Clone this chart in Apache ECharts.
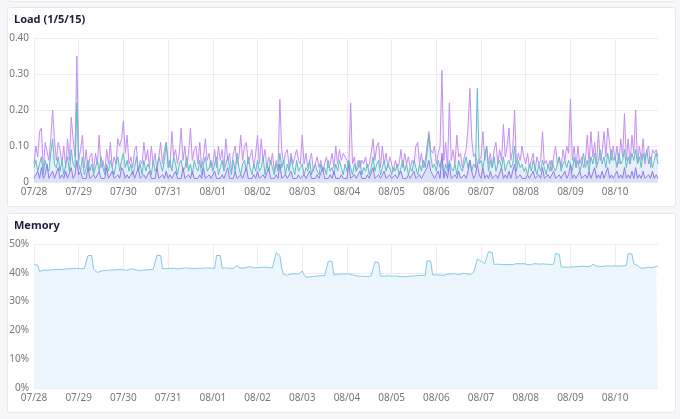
<html>
<head>
<meta charset="utf-8">
<script src="https://cdn.jsdelivr.net/npm/echarts@6.0.0/dist/echarts.min.js"></script>
<style>
  body { margin: 0; background: #f7f7fa; font-family: 'Noto Sans', sans-serif; }
  .card { position: absolute; left: 7px; width: 667px; background: #fff; border: 1px solid #e7e7ee; border-radius: 3px; }
  .chart { width: 667px; height: 198px; }
</style>
</head>
<body>
<div class="card" style="top:-10px;height:10px;"></div>
<div class="card" style="top:7px;height:198px;"><div id="load" class="chart"></div></div>
<div class="card" style="top:213px;height:198px;"><div id="mem" class="chart"></div></div>

<script type="text/javascript">
// tick labels, one per day; data is hourly (24 points per day)
var days = ['07/28','07/29','07/30','07/31','08/01','08/02','08/03','08/04','08/05','08/06','08/07','08/08','08/09','08/10'];

// load averages, in hundredths
var load1 = [
  5,10,7,14,15,3,11,11,6,12,20,12,6,11,9,5,10,4,12,6,18,12,7,35,
  6,9,13,4,9,3,7,8,3,8,5,13,4,6,3,9,5,11,4,7,5,12,10,12,
  17,8,13,5,7,4,9,10,3,6,5,11,6,9,4,10,5,8,3,7,11,5,9,11,
  6,4,14,7,9,5,8,15,6,10,4,8,15,6,9,10,5,11,4,7,12,6,8,4,
  5,9,4,10,6,9,4,12,6,8,3,8,10,5,7,13,6,10,11,5,7,9,4,8,
  13,5,12,6,9,4,7,5,8,3,6,4,23,9,5,8,9,4,8,5,7,9,6,5,
  13,5,8,4,6,8,3,5,7,4,6,3,5,7,4,5,8,4,10,5,9,6,8,8,
  6,4,22,5,7,3,6,4,6,5,7,4,5,8,12,6,10,11,4,10,5,8,4,7,
  5,3,6,4,5,9,4,8,5,7,4,6,5,10,11,5,8,4,6,10,14,9,8,10,
  5,8,10,31,6,11,4,22,6,9,5,13,7,8,4,7,9,15,26,12,7,8,5,6,
  7,14,6,10,5,8,4,9,11,5,9,6,16,7,10,15,6,9,20,5,8,6,10,7,
  5,8,4,6,8,3,7,5,6,14,5,6,4,6,3,7,10,5,7,4,9,6,10,8,
  23,6,10,4,10,5,7,4,6,13,5,14,7,11,5,14,6,8,14,7,15,11,6,10,
  6,10,5,12,7,19,6,12,5,13,8,20,5,10,6,12,5,9,10,4,9,8,9,7
];
var load5 = [
  4,6,3,5,7,2,6,4,3,8,12,5,4,7,3,6,2,5,7,3,9,5,4,22,
  5,3,7,2,4,6,3,5,2,4,6,3,7,4,2,5,3,6,4,2,5,7,3,6,
  8,4,6,3,5,2,4,7,3,5,2,6,3,5,4,2,6,3,4,7,5,3,6,11,
  4,6,3,7,5,2,5,6,3,4,7,3,5,2,6,4,3,6,2,5,7,3,4,6,
  3,5,7,2,4,6,3,5,7,4,2,6,3,8,4,2,5,6,3,7,4,2,5,3,
  6,3,4,7,2,5,3,6,4,2,5,3,8,4,6,2,5,3,7,4,2,6,3,4,
  5,2,4,3,6,2,4,5,3,2,5,3,4,2,6,3,4,2,5,3,6,4,2,5,
  3,6,4,2,5,3,4,6,2,4,3,5,2,4,7,3,5,6,2,4,6,3,5,4,
  2,4,3,5,2,4,6,3,5,2,4,3,6,4,2,5,3,6,4,8,13,7,4,5,
  3,6,4,7,2,5,3,6,4,3,5,2,6,4,3,5,7,4,6,3,5,4,26,5,
  6,4,7,10,3,6,4,7,3,5,6,4,7,3,5,6,4,5,10,3,6,4,5,3,
  4,2,5,3,6,4,2,5,3,6,4,2,5,3,6,4,3,5,7,3,5,6,4,6,
  5,3,7,4,6,3,5,8,4,6,3,7,5,8,4,6,9,5,7,4,8,5,9,6,
  7,4,8,5,6,9,4,7,5,8,6,9,5,7,4,8,6,9,5,7,4,6,8,5
];
var load15 = [
  1,1,3,1,4,1,2,5,1,1,3,1,1,4,1,2,1,3,1,1,4,1,2,6,
  2,3,1,1,1,4,1,1,2,1,1,3,1,1,1,4,1,1,3,1,1,2,1,4,
  3,1,2,1,1,3,1,1,4,1,1,2,1,1,3,1,1,1,4,1,1,2,1,3,
  1,2,1,1,3,1,1,1,4,1,1,2,1,3,1,1,1,2,1,4,1,1,2,1,
  1,3,1,1,1,2,1,1,4,1,1,1,3,1,1,2,1,1,4,1,1,1,2,1,
  3,1,1,2,1,1,4,1,1,1,2,1,5,1,1,2,1,1,3,1,1,1,2,1,
  1,2,1,1,3,1,1,1,2,1,1,4,1,1,1,2,1,3,1,1,1,2,1,1,
  1,5,1,1,2,1,1,3,1,1,1,2,1,1,4,1,1,2,1,1,3,1,1,2,
  1,1,2,1,1,3,1,1,1,2,1,1,3,1,1,2,1,1,3,4,6,3,2,1,
  2,3,1,8,1,3,1,5,1,1,2,1,3,1,1,2,1,3,6,3,1,2,5,2,
  1,4,1,2,1,3,1,1,2,1,1,4,1,2,1,3,1,1,5,1,1,2,1,1,
  1,2,1,1,3,1,1,2,1,4,1,1,2,1,1,3,1,1,2,1,1,3,1,2,
  5,1,2,1,1,3,1,1,2,1,3,1,1,4,1,2,1,3,1,1,4,1,2,1,
  1,3,1,2,1,4,1,2,1,3,1,4,1,2,1,3,1,1,2,1,3,1,2,1
];

// memory used, percent
var memory = [
  42.8,42.8,42.7,40.5,40.7,40.9,41,40.9,41.1,41,41.3,41.1,41,41.2,41.4,41.2,41.1,41.3,41.2,41.4,41.3,41.5,41.4,41.5,
  41.5,41.4,41.6,41.5,41.4,46,46,46,41.3,40.8,40.1,40.4,40.6,40.7,40.8,40.6,40.9,40.8,41,40.9,41,41.1,41.2,41,
  41,41.1,40.9,41.2,41.4,41,41.1,40.6,40.8,40.4,40.9,40.8,41,40.9,41.1,41,41.2,41.1,46,46,46,41.4,41.2,41.5,
  41.4,41.5,41.3,41.6,41.5,41.4,41.6,41.5,41.4,41.7,41.5,41.6,41.4,41.5,42,41.5,41.4,41.6,41.5,41.6,41.5,41.7,41.6,41.6,
  41.6,41.5,46,46,46,41.6,41.5,41.7,41.5,41.6,41.4,41.5,41.6,42.6,41.8,41.7,41.6,41.8,41.9,41.7,42.1,41.8,41.7,41.9,
  41.8,41.7,41.9,41.8,42,41.7,41.8,41.9,41.7,42,47,46.5,46,41.5,39.4,39,39.1,39.4,39.6,39.5,39.7,39.8,39.6,40,
  40.6,39.3,38.5,38.4,38.6,38.5,38.7,38.6,38.9,38.8,39,38.7,39,38.9,44,44,44,39.3,39.6,39.5,39.8,39.6,39.9,39.6,
  39.8,39.6,39.5,39.3,39.2,39,38.9,38.8,38.9,38.8,38.8,38.7,38.8,38.9,38.8,43.8,43.6,43.6,38.9,39.1,38.8,38.9,39,38.8,
  38.8,38.7,38.9,38.6,38.7,38.8,38.6,38.9,38.7,39.2,38.8,38.7,38.9,38.8,39,38.9,39.1,38.9,39,44.2,44,44,39.3,39.6,
  39.3,39.5,39.2,39.4,39.1,39.3,39.5,39.2,39.6,39.4,39.7,39.5,39.3,39.6,39.8,39.5,39.7,39.9,39.4,39.6,40.1,40.4,44.8,44.2,
  44,43.6,43.2,43.5,47.3,47,47,42.9,42.8,43,42.7,42.9,43.3,42.8,43.4,42.9,43.1,42.8,43,43.2,42.9,43.1,43.6,43.2,
  43,42.8,43.1,42.9,43,43.2,42.9,43,42.8,43.1,42.9,43,43.2,42.9,43.1,43,46.7,46.4,46.4,42,41.9,42,42.1,41.9,
  42,42.1,41.9,42.1,42,42.2,42.1,42.3,42.2,42.1,42.4,42.3,43,42.4,42.3,42.5,42.2,42.4,42.3,42.5,42.4,42.6,42.3,42.5,
  42.4,42.5,42.3,42.6,42.4,42.5,42.6,46.7,46.5,46.5,43.2,42.7,42.5,42.1,41.6,41.5,41.7,41.6,41.9,42,41.8,42.1,42.2,42.3
];

var hours = [];
for (var i = 0; i < load1.length; i++) {
  var h = i % 24;
  hours.push(days[Math.floor(i / 24)] + ' ' + (h < 10 ? '0' : '') + h + ':00');
}
function dayStart(idx) { return idx % 24 === 0; }

var font = 'Noto Sans';
function baseOption(title) {
  return {
    animation: false,
    title: { text: title, left: 6, top: 6, padding: 0, textStyle: { fontSize: 11, fontWeight: 'bold', color: '#1e1e3c', fontFamily: font } },
    grid: { left: 26, right: 17, top: 30, bottom: 24, containLabel: false, outerBoundsMode: 'none' },
    xAxis: {
      type: 'category', data: hours, boundaryGap: false,
      axisLine: { show: false }, axisTick: { show: false },
      axisLabel: { interval: dayStart, formatter: function (v) { return v.slice(0, 5); }, color: '#777', fontSize: 10, margin: 5, fontFamily: font },
      splitLine: { show: true, interval: dayStart, lineStyle: { color: '#ececf2' } }
    }
  };
}

var loadChart = echarts.init(document.getElementById('load'));
var opt1 = baseOption('Load (1/5/15)');
opt1.yAxis = {
  type: 'value', min: 0, max: 0.4, interval: 0.1,
  axisLabel: { color: '#777', fontSize: 10, margin: 5, fontFamily: font, formatter: function (v) { return v === 0 ? '0' : v.toFixed(2); } },
  splitLine: { lineStyle: { color: '#ececf2' } }
};
function loadSeries(name, vals, color) {
  return {
    name: name, type: 'line', symbol: 'none', data: vals.map(function (v) { return v / 100; }),
    lineStyle: { width: 1, color: color }, itemStyle: { color: color },
    areaStyle: { color: color, opacity: 0.1 }
  };
}
opt1.series = [
  loadSeries('1', load1, '#c28ff0'),
  loadSeries('5', load5, '#5cbcc2'),
  loadSeries('15', load15, '#8b7af0')
];
loadChart.setOption(opt1);

var memChart = echarts.init(document.getElementById('mem'));
var opt2 = baseOption('Memory');
opt2.yAxis = {
  type: 'value', min: 0, max: 50, interval: 10,
  axisLabel: { color: '#777', fontSize: 10, margin: 5, fontFamily: font, formatter: '{value}%' },
  splitLine: { lineStyle: { color: '#ececf2' } }
};
opt2.series = [{
  name: 'Memory', type: 'line', symbol: 'none', data: memory,
  lineStyle: { width: 1, color: '#86c8e6' },
  areaStyle: { color: '#eef6fd', opacity: 1 }
}];
memChart.setOption(opt2);
</script>
</body>
</html>
